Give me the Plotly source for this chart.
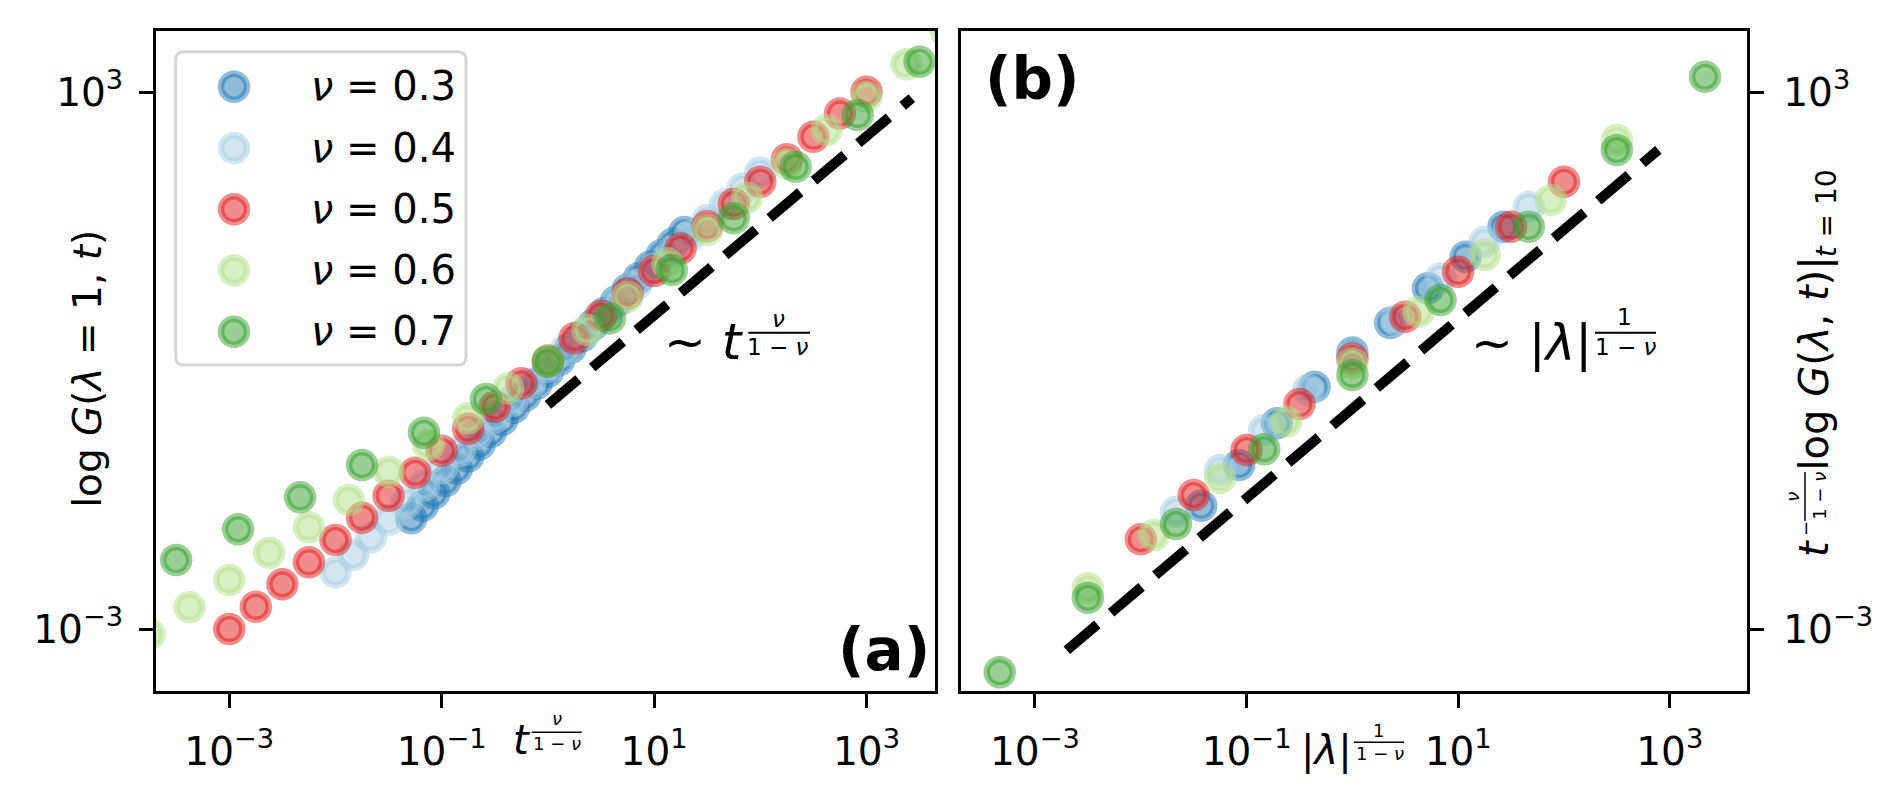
import numpy as np
import plotly.graph_objects as go

# the page body keeps its 8px margin, so the figure is drawn 8px smaller
# and every pixel position below is measured on the full 1898x809 picture
OFF = 8
W, H = 1898 - OFF, 809 - OFF
FONT = "DejaVu Sans"

nus = ["0.3", "0.4", "0.5", "0.6", "0.7"]
rgb = ["31,120,180", "166,206,227", "227,26,28", "178,223,138", "51,160,44"]

# (a) log10 of t^(nu/(1-nu)) and of log G(lambda=1, t)
a_x_03 = [-1.286, -1.179, -1.071, -0.964, -0.857, -0.750, -0.643, -0.536, -0.429, -0.321, -0.214, -0.107, 0.0,
          0.107, 0.214, 0.321, 0.429, 0.536, 0.643, 0.750, 0.857, 0.964, 1.071, 1.179, 1.286]
a_y_03 = [-1.763, -1.624, -1.485, -1.347, -1.209, -1.072, -0.935, -0.799, -0.663, -0.528, -0.393, -0.259, -0.126,
          0.007, 0.139, 0.271, 0.402, 0.533, 0.663, 0.793, 0.922, 1.051, 1.179, 1.307, 1.435]
a_x_04 = [-2.0, -1.833, -1.667, -1.5, -1.333, -1.167, -1.0, -0.833, -0.667, -0.5, -0.333, -0.167, 0.0,
          0.167, 0.333, 0.5, 0.667, 0.833, 1.0, 1.167, 1.333, 1.5, 1.667, 1.833, 2.0]
a_y_04 = [-2.367, -2.171, -1.976, -1.782, -1.589, -1.396, -1.204, -1.013, -0.823, -0.634, -0.446, -0.259, -0.072,
          0.114, 0.299, 0.483, 0.666, 0.848, 1.029, 1.209, 1.389, 1.567, 1.745, 1.922, 2.098]
a_x_05 = [-3.0, -2.75, -2.5, -2.25, -2.0, -1.75, -1.5, -1.25, -1.0, -0.75, -0.5, -0.25, 0.0,
          0.25, 0.5, 0.75, 1.0, 1.25, 1.5, 1.75, 2.0, 2.25, 2.5, 2.75, 3.0]
a_y_05 = [-3.0, -2.751, -2.5, -2.255, -2.006, -1.756, -1.51, -1.254, -1.008, -0.762, -0.516, -0.255, 0.0,
          0.25, 0.5, 0.75, 1.0, 1.253, 1.5, 1.75, 1.998, 2.25, 2.5, 2.76, 3.003]
a_x_06 = [-3.75, -3.375, -3.0, -2.625, -2.25, -1.875, -1.5, -1.125, -0.75, -0.375, 0.0,
          0.375, 0.75, 1.125, 1.5, 1.875, 2.25, 2.625, 3.0, 3.375, 3.75]
a_y_06 = [-3.056, -2.757, -2.452, -2.148, -1.864, -1.559, -1.243, -0.944, -0.646, -0.311, 0.0,
          0.341, 0.713, 1.086, 1.458, 1.82, 2.2, 2.575, 2.947, 3.31, 3.67]
a_x_07 = [-3.5, -2.917, -2.333, -1.75, -1.167, -0.583, 0.0, 0.583, 1.167, 1.75, 2.333, 2.917, 3.5]
a_y_07 = [-2.229, -1.886, -1.528, -1.168, -0.807, -0.43, -0.013, 0.471, 1.011, 1.589, 2.165, 2.743, 3.339]

# (b) log10 of |lambda|^(1/(1-nu)) and of t^(-nu/(1-nu)) log G(lambda, t=10)
b_x_03 = [-1.429, -1.071, -0.714, -0.357, 0.0, 0.357, 0.714, 1.071, 1.429]
b_y_03 = [-1.622, -1.168, -0.702, -0.293, 0.09, 0.42, 0.807, 1.16, 1.495]
b_x_04 = [-1.667, -1.25, -0.833, -0.417, 0.0, 0.417, 0.833, 1.25, 1.667]
b_y_04 = [-1.69, -1.223, -0.777, -0.33, 0.05, 0.45, 0.918, 1.327, 1.719]
b_x_05 = [-2.0, -1.5, -1.0, -0.5, 0.0, 0.5, 1.0, 1.5, 2.0]
b_y_05 = [-1.998, -1.503, -1.0, -0.486, 0.024, 0.489, 0.992, 1.495, 1.998]
b_x_06 = [-2.5, -1.875, -1.25, -0.625, 0.0, 0.625, 1.25, 1.875, 2.5]
b_y_06 = [-2.545, -1.95, -1.316, -0.684, -0.03, 0.545, 1.179, 1.793, 2.464]
b_x_07 = [-3.333, -2.5, -1.667, -0.833, 0.0, 0.833, 1.667, 2.5, 3.333]
b_y_07 = [-3.484, -2.65, -1.827, -0.992, -0.162, 0.676, 1.495, 2.352, 3.17]

# dashed guide lines
guide_a_x = [1.0, 2670.0]
guide_a_y = [0.32, 854.0]
guide_b_x = [0.002, 780.0]
guide_b_y = [0.00058, 226.0]

x_ticks = [1e-3, 1e-1, 1e1, 1e3]
x_ticktext = ["10<sup>−3</sup>", "10<sup>−1</sup>", "10<sup>1</sup>", "10<sup>3</sup>"]
y_ticks = [1e-3, 1e3]
y_ticktext = ["10<sup>−3</sup>", "10<sup>3</sup>"]

a_series = [(a_x_03, a_y_03), (a_x_04, a_y_04), (a_x_05, a_y_05), (a_x_06, a_y_06), (a_x_07, a_y_07)]
b_series = [(b_x_03, b_y_03), (b_x_04, b_y_04), (b_x_05, b_y_05), (b_x_06, b_y_06), (b_x_07, b_y_07)]


def px(x):
    return (x - OFF) / W


def py(y):
    return 1 - (y - OFF) / H


fig = go.Figure()

for (xs, ys), c in zip(a_series, rgb):
    fig.add_trace(go.Scatter(x=10 ** np.array(xs), y=10 ** np.array(ys), mode="markers",
                             marker=dict(size=26, color=f"rgba({c},0.5)",
                                         line=dict(color=f"rgba({c},0.5)", width=6.5)),
                             xaxis="x", yaxis="y", showlegend=False, hoverinfo="skip"))
fig.add_trace(go.Scatter(x=guide_a_x, y=guide_a_y, mode="lines",
                         line=dict(color="black", width=10, dash="40px,18px"),
                         xaxis="x", yaxis="y", showlegend=False, hoverinfo="skip"))

for (xs, ys), c in zip(b_series, rgb):
    fig.add_trace(go.Scatter(x=10 ** np.array(xs), y=10 ** np.array(ys), mode="markers",
                             marker=dict(size=26, color=f"rgba({c},0.5)",
                                         line=dict(color=f"rgba({c},0.5)", width=6.5)),
                             xaxis="x2", yaxis="y2", showlegend=False, hoverinfo="skip"))
fig.add_trace(go.Scatter(x=guide_b_x, y=guide_b_y, mode="lines",
                         line=dict(color="black", width=10, dash="40px,18px"),
                         xaxis="x2", yaxis="y2", showlegend=False, hoverinfo="skip"))

axis_style = dict(type="log", showline=True, mirror=True, linecolor="black", linewidth=3,
                  ticks="outside", ticklen=14, tickwidth=3, tickcolor="black", automargin=False,
                  showgrid=False, zeroline=False,
                  tickfont=dict(family=FONT, size=39, color="black"))

ydom = [py(690.7), py(31)]
fig.update_layout(
    width=W, height=H, autosize=False,
    margin=dict(l=0, r=0, t=0, b=0),
    paper_bgcolor="white", plot_bgcolor="rgba(0,0,0,0)",
    font=dict(family=FONT, color="black"),
    xaxis=dict(axis_style, domain=[px(156), px(935)], range=[-3.69, 3.645], anchor="y",
               tickvals=x_ticks, ticktext=x_ticktext, ticklabelstandoff=10),
    yaxis=dict(axis_style, domain=ydom, range=[-3.689, 3.682], anchor="x",
               tickvals=y_ticks, ticktext=y_ticktext, ticklabelstandoff=8),
    xaxis2=dict(axis_style, domain=[px(961), px(1746.5)], range=[-3.699, 3.725], anchor="y2",
                tickvals=x_ticks, ticktext=x_ticktext, ticklabelstandoff=10),
    yaxis2=dict(axis_style, domain=ydom, range=[-3.689, 3.682], anchor="x2", side="right",
                tickvals=y_ticks, ticktext=y_ticktext, ticklabelstandoff=12),
)


def text(x, y, s, size, xanchor="center", angle=0, bold=False):
    fig.add_annotation(x=px(x), y=py(y), xref="paper", yref="paper",
                       text=f"<b>{s}</b>" if bold else s, showarrow=False,
                       xanchor=xanchor, yanchor="middle", textangle=angle,
                       font=dict(family=FONT, size=size, color="black"))


def bar(x0, x1, y0, y1, w=2):
    fig.add_shape(type="line", xref="paper", yref="paper", x0=px(x0), x1=px(x1), y0=py(y0), y1=py(y1),
                  line=dict(color="black", width=w))


# legend box (rounded) with markers and labels
lx0, lx1, ly0, ly1 = px(175.7), px(466), py(365), py(51.7)
rx, ry = 8 / W, 8 / H
path = (f"M {lx0 + rx},{ly1} L {lx1 - rx},{ly1} Q {lx1},{ly1} {lx1},{ly1 - ry} "
        f"L {lx1},{ly0 + ry} Q {lx1},{ly0} {lx1 - rx},{ly0} L {lx0 + rx},{ly0} "
        f"Q {lx0},{ly0} {lx0},{ly0 + ry} L {lx0},{ly1 - ry} Q {lx0},{ly1} {lx0 + rx},{ly1} Z")
fig.add_shape(type="path", path=path, xref="paper", yref="paper", layer="below",
              fillcolor="rgba(255,255,255,0.8)", line=dict(color="#d6d6d6", width=3))
rows = [86.7, 148.3, 209.3, 270.3, 331.7]
for nu, c, cy in zip(nus, rgb, rows):
    fig.add_shape(type="circle", xref="paper", yref="paper", layer="below",
                  x0=px(234 - 13), x1=px(234 + 13), y0=py(cy + 13), y1=py(cy - 13),
                  fillcolor=f"rgba({c},0.5)", line=dict(color=f"rgba({c},0.5)", width=6.5))
    text(309, cy - 0.5, f"<i>ν</i> = {nu}", 40, xanchor="left")

# panel labels
text(932, 650, "(a)", 58, xanchor="right", bold=True)
text(983, 79, "(b)", 58, xanchor="left", bold=True)

# scaling annotations
text(662, 341.7, "~ <i>t</i>", 50, xanchor="left")
text(778.3, 318.7, "<i>ν</i>", 23)
bar(748.3, 810, 332.7, 332.7)
text(778.3, 347, "1 − <i>ν</i>", 23)

text(1469, 342.6, "~ |<i>λ</i>|", 50, xanchor="left")
text(1624.2, 317, "1", 23)
bar(1595, 1656, 332.7, 332.7)
text(1626, 347, "1 − <i>ν</i>", 23)

# x axis labels
text(521, 739.5, "<i>t</i>", 40)
text(556.7, 718.8, "<i>ν</i>", 18)
bar(531.7, 581.7, 732.3, 732.3, 1.5)
text(556.7, 743.8, "1 − <i>ν</i>", 18)

text(1326.7, 750.1, "|<i>λ</i>|", 40)
text(1378.3, 730.5, "1", 18)
bar(1354, 1404, 742.3, 742.3, 1.5)
text(1379.5, 753.8, "1 − <i>ν</i>", 18)

# y axis labels (rotated)
text(87.3, 368.5, "log <i>G</i>(<i>λ</i> = 1, <i>t</i>)", 39, angle=-90)

text(1814, 549, "<i>t</i>", 40, angle=-90)
text(1805, 529, "−", 18, angle=-90)
text(1791.8, 497, "<i>ν</i>", 18, angle=-90)
bar(1805, 1805, 472, 521, 1.5)
text(1818.8, 496, "1 − <i>ν</i>", 18, angle=-90)
text(1814, 363.5, "log <i>G</i>(<i>λ</i>, <i>t</i>)|", 40, angle=-90)
text(1827.3, 213, "<i>t</i> = 10", 28, angle=-90)

fig.write_html("out.html")
